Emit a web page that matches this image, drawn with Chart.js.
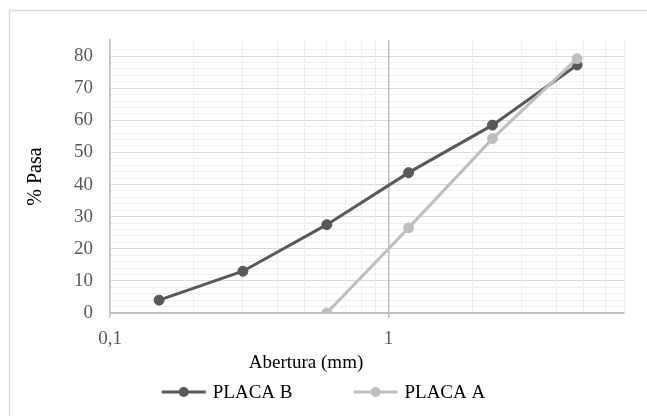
<!DOCTYPE html>
<html>
<head>
<meta charset="utf-8">
<script src="https://cdn.jsdelivr.net/npm/chart.js@4.4.0/dist/chart.umd.min.js"></script>
<style>
  html, body { margin: 0; padding: 0; background: #fff; }
  #wrap { width: 647px; height: 416px; }
</style>
</head>
<body>
<div id="wrap"><canvas id="myChart" width="647" height="416"></canvas></div>
<script>
// sieve openings (mm) and % passing
const aberturaB = [0.15, 0.3, 0.6, 1.18, 2.36, 4.75]
const pasaB = [4, 13, 27.5, 43.7, 58.5, 77.2]
const aberturaA = [0.6, 1.18, 2.36, 4.75]
const pasaA = [0, 26.5, 54.3, 79.2]
const seriesNames = ['PLACA B', 'PLACA A']
const seriesColors = ['#595959', '#bfbfbf']
const xTitle = 'Abertura (mm)'
const yTitle = '% Pasa'

const serif = "'Liberation Serif', 'Times New Roman', serif"
Chart.defaults.font.family = serif

const isDecade = (v) => Math.abs(Math.log10(v) - Math.round(Math.log10(v))) < 1e-6
const isWholeStep = (v) => {
  const s = v / Math.pow(10, Math.floor(Math.log10(v) + 1e-9))
  return Math.abs(s - Math.round(s)) < 1e-6
}

const toPoints = (xs, ys) => xs.map((x, i) => ({x: x, y: ys[i]}))

// border, x title and legend drawn straight on the canvas
const extras = {
  id: 'extras',
  beforeDraw: (chart) => {
    const ctx = chart.ctx
    ctx.save()
    ctx.fillStyle = '#fff'
    ctx.fillRect(0, 0, chart.width, chart.height)
    ctx.strokeStyle = '#d9d9d9'
    ctx.lineWidth = 1.5
    ctx.strokeRect(9.5, 10.5, chart.width, chart.height)
    ctx.restore()
  },
  afterDraw: (chart) => {
    const ctx = chart.ctx
    ctx.save()
    ctx.font = '19px ' + serif
    ctx.fillStyle = '#000'
    ctx.textAlign = 'center'
    ctx.textBaseline = 'middle'
    ctx.fillText(xTitle, 306, 363)

    const lineLen = 44, gapText = 7, gapItem = 61
    const widths = seriesNames.map(t => ctx.measureText(t).width)
    let total = 0
    widths.forEach((w, i) => { total += lineLen + gapText + w + (i ? 0 : gapItem) })
    let x = chart.width / 2 - total / 2
    const y = 392
    ctx.textAlign = 'left'
    seriesNames.forEach((t, i) => {
      ctx.strokeStyle = seriesColors[i]
      ctx.lineWidth = 3
      ctx.beginPath()
      ctx.moveTo(x, y)
      ctx.lineTo(x + lineLen, y)
      ctx.stroke()
      ctx.fillStyle = seriesColors[i]
      ctx.beginPath()
      ctx.arc(x + lineLen / 2, y, 5, 0, Math.PI * 2)
      ctx.fill()
      ctx.fillStyle = '#000'
      ctx.fillText(t, x + lineLen + gapText, y + 1)
      x += lineLen + gapText + widths[i] + gapItem
    })
    ctx.restore()
  }
}

const data = {
  datasets: [{
    label: seriesNames[0],
    data: toPoints(aberturaB, pasaB),
    borderColor: seriesColors[0],
    backgroundColor: seriesColors[0],
    borderWidth: 3,
    pointRadius: 5,
    pointBorderWidth: 1,
    tension: 0,
    order: 1
  }, {
    label: seriesNames[1],
    data: toPoints(aberturaA, pasaA),
    borderColor: seriesColors[1],
    backgroundColor: seriesColors[1],
    borderWidth: 3,
    pointRadius: 5,
    pointBorderWidth: 1,
    tension: 0,
    order: 0
  }]
}

const config = {
  type: 'line',
  data,
  options: {
    responsive: false,
    animation: false,
    layout: {
      padding: {top: 40, right: 23, left: 0, bottom: 0}
    },
    scales: {
      // y first so the x grid (the line at 1) is painted over the light rows
      y: {
        min: 0,
        max: 85,
        afterFit: (scale) => { scale.width = 110 },
        grid: {
          color: (ctx) => {
            const v = ctx.tick.value
            if (v === 0 || v === 85) return 'rgba(0,0,0,0)'
            return v % 10 === 0 ? '#d9d9d9' : '#f0f0f0'
          },
          drawTicks: false
        },
        border: {color: '#bfbfbf', width: 1.5},
        ticks: {
          stepSize: 2,
          autoSkip: false,
          padding: 17,
          color: '#595959',
          font: {size: 19},
          callback: (v) => (v % 10 === 0 ? String(v) : '')
        },
        title: {
          display: true,
          text: yTitle,
          color: '#000',
          font: {size: 20},
          padding: {top: 24, bottom: 0}
        }
      },
      x: {
        type: 'logarithmic',
        min: 0.1,
        max: 7,
        afterFit: (scale) => { scale.height = 103 },
        grid: {
          color: (ctx) => {
            const v = ctx.tick.value
            if (!isWholeStep(v)) return 'rgba(0,0,0,0)'
            return isDecade(v) ? '#bfbfbf' : '#eeeeee'
          },
          lineWidth: (ctx) => isDecade(ctx.tick.value) ? 1.5 : 1,
          drawTicks: true,
          tickLength: 5,
          tickColor: (ctx) => isDecade(ctx.tick.value) ? '#bfbfbf' : 'rgba(0,0,0,0)'
        },
        border: {color: '#bfbfbf', width: 2},
        ticks: {
          autoSkip: false,
          maxRotation: 0,
          padding: 10,
          color: '#595959',
          font: {size: 19},
          callback: (v) => {
            if (!isDecade(v)) return ''
            return String(v).replace('.', ',')
          }
        }
      }
    },
    plugins: {
      legend: {display: false},
      tooltip: {enabled: false}
    }
  },
  plugins: [extras]
}

const myChart = new Chart(document.getElementById('myChart'), config)
</script>
</body>
</html>
